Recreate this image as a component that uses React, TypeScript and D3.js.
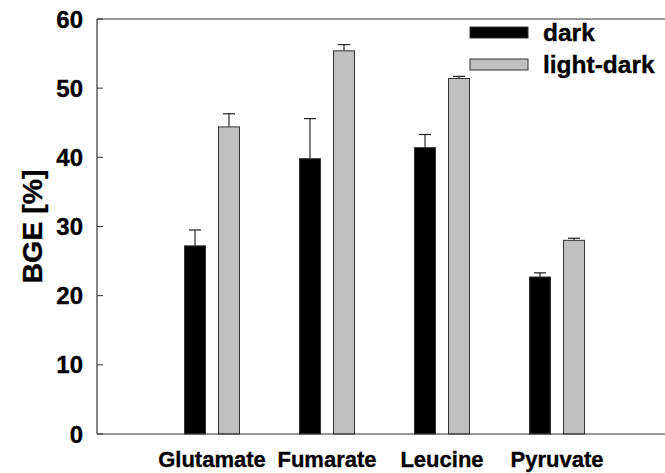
import React from "react";
import * as d3 from "d3";

const categories = ["Glutamate", "Fumarate", "Leucine", "Pyruvate"];
const seriesNames = ["dark", "light-dark"];
const darkValues = [27.2, 39.8, 41.4, 22.7];
const darkErrors = [2.3, 5.8, 1.9, 0.6];
const lightDarkValues = [44.4, 55.4, 51.4, 28.0];
const lightDarkErrors = [1.9, 0.9, 0.3, 0.3];
const yTicks = [0, 10, 20, 30, 40, 50, 60];
const seriesColors = ["#000000", "#c0c0c0"];

const W = 665;
const H = 473;
const left = 97;
const top = 19;
const bottom = 434;

export default function App() {
  const x = d3.scaleLinear().domain([0, 5]).range([left, 672]);
  const y = d3.scaleLinear().domain([0, 60]).range([bottom, top]);
  const inner = d3
    .scaleBand<string>()
    .domain(seriesNames)
    .range([-27.5, 27.5])
    .paddingInner(0.382)
    .paddingOuter(0);
  const bw = inner.bandwidth();
  const values = [darkValues, lightDarkValues];
  const errors = [darkErrors, lightDarkErrors];
  const font = "'Liberation Sans', Arial, Helvetica, sans-serif";
  const ts = { stroke: "#000", strokeWidth: 0.35 };

  return (
    <svg
      width={W}
      height={H}
      style={{ position: "absolute", left: 0, top: 0, background: "#fff" }}
      fontFamily={font}
      fontWeight="bold"
    >
      {/* bars */}
      {seriesNames.map((s, si) =>
        categories.map((c, ci) => {
          const cx = x(ci + 1);
          const x0 = cx + (inner(s) as number);
          const v = values[si][ci];
          const e = errors[si][ci];
          const bx = x0 + bw / 2;
          return (
            <g key={s + c}>
              <line x1={bx} x2={bx} y1={y(v)} y2={y(v + e)} stroke="#000" strokeWidth={1} />
              <line x1={bx - 6} x2={bx + 6} y1={y(v + e)} y2={y(v + e)} stroke="#222" strokeWidth={1.2} />
              <rect
                x={x0}
                y={y(v)}
                width={bw}
                height={y(0) - y(v)}
                fill={seriesColors[si]}
                stroke="#333"
                strokeWidth={1}
              />
            </g>
          );
        })
      )}
      {/* frame */}
      <line x1={left} x2={W} y1={top} y2={top} stroke="#333" strokeWidth={1.2} />
      <line x1={left} x2={W} y1={bottom} y2={bottom} stroke="#333" strokeWidth={1.2} />
      <line x1={left} x2={left} y1={top} y2={bottom} stroke="#333" strokeWidth={1.2} />
      {/* y ticks */}
      {yTicks.map((t) => (
        <g key={t}>
          <line x1={left} x2={left + 6} y1={y(t)} y2={y(t)} stroke="#333" strokeWidth={1} />
          <text x={left - 14} y={y(t) + 8.5} textAnchor="end" fontSize={24} fill="#000" {...ts}>
            {t}
          </text>
        </g>
      ))}
      {/* x labels */}
      {categories.map((c, ci) => (
        <text key={c} x={x(ci + 1)} y={467} textAnchor="middle" fontSize={22} fill="#000" {...ts}>
          {c}
        </text>
      ))}
      {/* y title */}
      <text
        transform={`translate(42, ${(top + bottom) / 2}) rotate(-90)`}
        textAnchor="middle"
        fontSize={28.5}
        fill="#000"
        {...ts}
      >
        BGE [%]
      </text>
      {/* legend */}
      {seriesNames.map((s, si) => (
        <g key={s} transform={`translate(470, ${27 + si * 32})`}>
          <rect x={0} y={0} width={58} height={11} fill={seriesColors[si]} stroke="#333" strokeWidth={1} />
          <text x={73} y={13.5} fontSize={24.5} fill="#000" {...ts}>
            {s}
          </text>
        </g>
      ))}
    </svg>
  );
}
